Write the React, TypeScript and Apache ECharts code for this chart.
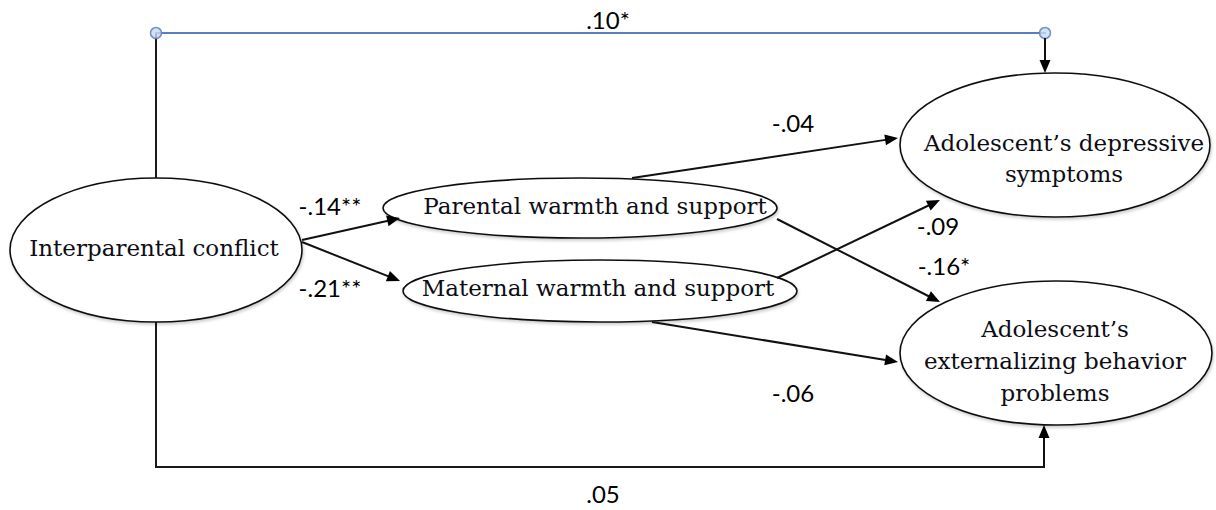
import React, { useEffect, useRef } from "react";
import * as echarts from "echarts";

// Nodes (latent constructs) of the path model
const nodeNames = [
  "Interparental conflict",
  "Parental warmth and support",
  "Maternal warmth and support",
  "Adolescent’s depressive\nsymptoms",
  "Adolescent’s\nexternalizing behavior\nproblems",
];
const nodeCenters = [
  [156, 250],
  [580, 208],
  [600, 291],
  [1055, 145],
  [1056, 353],
];
const nodeRadii = [
  [146, 72],
  [197, 30],
  [197, 31],
  [155, 72],
  [156, 72],
];
const nodeTextAnchors = [
  [154, 248],
  [595, 206],
  [598, 288],
  [1064, 158],
  [1055, 361],
];

// Path coefficients
const pathLabels = [".10*", "-.04", "-.14**", "-.21**", "-.09", "-.16*", "-.06", ".05"];
const pathLabelAnchors = [
  [608, 19],
  [793, 122],
  [330, 205],
  [330, 287],
  [938, 225],
  [944, 265],
  [793, 392],
  [603, 493],
];

// Directed paths (arrow at the end)
const arrowStarts = [
  [302, 240],
  [302, 242],
  [632, 178],
  [777, 219],
  [777, 278],
  [652, 322],
  [1045, 38],
  [1044, 467],
];
const arrowEnds = [
  [400, 218],
  [400, 281],
  [898, 138],
  [940, 302],
  [940, 200],
  [898, 362],
  [1045, 73],
  [1044, 425],
];

// Connector segments without arrows: [x1, y1, x2, y2]
const plainSegments = [
  [156, 178, 156, 33],
  [156, 322, 156, 467],
  [156, 467, 1044, 467],
];
// Blue covariance connector with round handles at its ends
const blueSegment = [[156, 33, 1045, 33]];
const blueHandles = [
  [156, 33],
  [1045, 33],
];

export default function App() {
  const ref = useRef<HTMLDivElement>(null);

  useEffect(() => {
    if (!ref.current) return;
    const chart = echarts.init(ref.current, null, { renderer: "svg" });

    const shadow = {
      shadowColor: "rgba(0,0,0,0.2)",
      shadowBlur: 3,
      shadowOffsetX: 1,
      shadowOffsetY: 2,
    };

    const segmentSeries = (data: number[][], color: string, z: number) => ({
      type: "custom",
      coordinateSystem: "cartesian2d",
      silent: true,
      clip: false,
      z,
      data,
      encode: { x: [0, 2], y: [1, 3] },
      renderItem: (params: any, api: any) => {
        const p1 = api.coord([api.value(0), api.value(1)]);
        const p2 = api.coord([api.value(2), api.value(3)]);
        return {
          type: "line",
          shape: { x1: p1[0], y1: p1[1], x2: p2[0], y2: p2[1] },
          style: { stroke: color, lineWidth: 2, lineCap: "square" },
        };
      },
    });

    const option: any = {
      animation: false,
      backgroundColor: "#ffffff",
      grid: { left: 0, right: 0, top: 0, bottom: 0, containLabel: false },
      xAxis: { type: "value", min: 0, max: 1216, show: false },
      yAxis: { type: "value", min: 0, max: 510, inverse: true, show: false },
      series: [
        segmentSeries(plainSegments, "#1a1a1a", 2),
        segmentSeries(blueSegment, "#5a7fbd", 2),
        {
          type: "scatter",
          silent: true,
          z: 4,
          symbol: "circle",
          symbolSize: 11,
          itemStyle: { color: "#cbd8ee", borderColor: "#5a7fbd", borderWidth: 1.5 },
          data: blueHandles,
        },
        {
          type: "custom",
          coordinateSystem: "cartesian2d",
          silent: true,
          clip: false,
          z: 3,
          data: nodeCenters.map((c, i) => [c[0], c[1], nodeRadii[i][0], nodeRadii[i][1]]),
          encode: { x: 0, y: 1 },
          renderItem: (params: any, api: any) => {
            const c = api.coord([api.value(0), api.value(1)]);
            const s = api.size([api.value(2), api.value(3)]);
            return {
              type: "ellipse",
              shape: { cx: c[0], cy: c[1], rx: s[0], ry: s[1] },
              style: { fill: "#ffffff", stroke: "#111111", lineWidth: 1.6, ...shadow },
            };
          },
        },
        {
          type: "custom",
          coordinateSystem: "cartesian2d",
          silent: true,
          clip: false,
          z: 5,
          data: arrowStarts.map((s, i) => [s[0], s[1], arrowEnds[i][0], arrowEnds[i][1]]),
          encode: { x: [0, 2], y: [1, 3] },
          renderItem: (params: any, api: any) => {
            const p1 = api.coord([api.value(0), api.value(1)]);
            const p2 = api.coord([api.value(2), api.value(3)]);
            const dx = p2[0] - p1[0];
            const dy = p2[1] - p1[1];
            const len = Math.hypot(dx, dy) || 1;
            const ux = dx / len;
            const uy = dy / len;
            const L = 13;
            const W = 5.5;
            const bx = p2[0] - ux * L;
            const by = p2[1] - uy * L;
            return {
              type: "group",
              children: [
                {
                  type: "line",
                  shape: { x1: p1[0], y1: p1[1], x2: bx + ux * 2, y2: by + uy * 2 },
                  style: { stroke: "#111111", lineWidth: 2 },
                },
                {
                  type: "polygon",
                  shape: {
                    points: [
                      [p2[0], p2[1]],
                      [bx - uy * W, by + ux * W],
                      [bx + uy * W, by - ux * W],
                    ],
                  },
                  style: { fill: "#000000" },
                },
              ],
            };
          },
        },
        {
          type: "custom",
          coordinateSystem: "cartesian2d",
          silent: true,
          clip: false,
          z: 6,
          data: nodeTextAnchors.map((p) => [p[0], p[1]]),
          encode: { x: 0, y: 1 },
          renderItem: (params: any, api: any) => {
            const p = api.coord([api.value(0), api.value(1)]);
            const lh = params.dataIndex === 3 ? 31 : 32;
            return {
              type: "text",
              style: {
                text: nodeNames[params.dataIndex],
                x: p[0],
                y: p[1],
                align: "center",
                verticalAlign: "middle",
                fontFamily: "DejaVu Serif",
                fontSize: 23,
                lineHeight: lh,
                fill: "#0d0d14",
              },
            };
          },
        },
        {
          type: "custom",
          coordinateSystem: "cartesian2d",
          silent: true,
          clip: false,
          z: 6,
          data: pathLabelAnchors.map((p) => [p[0], p[1]]),
          encode: { x: 0, y: 1 },
          renderItem: (params: any, api: any) => {
            const p = api.coord([api.value(0), api.value(1)]);
            return {
              type: "text",
              style: {
                text: pathLabels[params.dataIndex],
                x: p[0],
                y: p[1],
                align: "center",
                verticalAlign: "middle",
                fontFamily: "Lato",
                fontSize: 24,
                fill: "#000000",
              },
            };
          },
        },
      ],
    };

    chart.setOption(option);
    return () => {
      chart.dispose();
    };
  }, []);

  return (
    <div
      ref={ref}
      style={{ position: "absolute", left: 0, top: 0, width: 1216, height: 510 }}
    />
  );
}
